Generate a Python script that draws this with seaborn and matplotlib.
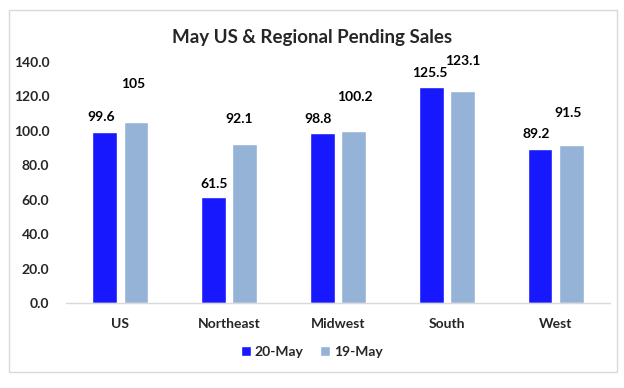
import matplotlib
matplotlib.use("Agg")
import matplotlib.pyplot as plt
import seaborn as sns
import pandas as pd
from matplotlib.patches import Rectangle

categories = ["US", "Northeast", "Midwest", "South", "West"]
series_names = ["20-May", "19-May"]
may20 = [99.6, 61.5, 98.8, 125.5, 89.2]
may19 = [105.0, 92.1, 100.2, 123.1, 91.5]
label_text_20 = ["99.6", "61.5", "98.8", "125.5", "89.2"]
label_text_19 = ["105", "92.1", "100.2", "123.1", "91.5"]
yticks = [0, 20, 40, 60, 80, 100, 120, 140]

# label offsets in points (dx, dy) relative to bar top centre
off20 = [(-3, 6), (0, 5), (-3, 6), (-1, 6), (-3, 7)]
off19 = [(-2, 23), (-4, 14), (1, 20), (0, 17), (-2, 19)]

df = pd.DataFrame({
    "Region": categories * 2,
    "Series": [series_names[0]] * 5 + [series_names[1]] * 5,
    "Value": may20 + may19,
})

sns.set_theme(style="white")
plt.rcParams["font.family"] = ["Lato", "DejaVu Sans"]

fig = plt.figure(figsize=(6.24, 3.88), dpi=100)
ax = fig.add_axes([66/624, 1-303/388, (610-66)/624, (303-62)/388])

palette = {"20-May": "#1818FF", "19-May": "#95B3D7"}
sns.barplot(data=df, x="Region", y="Value", hue="Series", order=categories,
            hue_order=series_names, palette=palette, width=0.57, gap=0.2,
            saturation=1, ax=ax, legend=True)

ax.set_ylim(0, 140)
ax.set_xlim(-0.5, 4.5)
ax.set_yticks(yticks)
ax.set_yticklabels([f"{v:.1f}" for v in yticks], fontsize=10, fontweight="bold")
ax.tick_params(axis="y", length=0, pad=12)
ax.tick_params(axis="x", length=0, pad=11)
for lab in ax.get_xticklabels():
    lab.set_fontsize(10)
    lab.set_fontweight("bold")
ax.set_xlabel("")
ax.set_ylabel("")
for s in ["top", "right", "left"]:
    ax.spines[s].set_visible(False)
ax.spines["bottom"].set_color("#d9d9d9")
ax.spines["bottom"].set_linewidth(1.0)

# data labels
containers = ax.containers
for cont, texts, offs in [(containers[0], label_text_20, off20), (containers[1], label_text_19, off19)]:
    for bar, t, (dx, dy) in zip(cont, texts, offs):
        x = bar.get_x() + bar.get_width() / 2
        y = bar.get_height()
        ax.annotate(t, (x, y), xytext=(dx, dy), textcoords="offset points",
                    ha="center", va="bottom", fontsize=10, fontweight="bold",
                    color="#000000", annotation_clip=False)

leg = ax.legend(loc="center", bbox_to_anchor=(0.5, 1-352/388), bbox_transform=fig.transFigure,
                ncol=2, frameon=False, fontsize=10, handlelength=0.7, handleheight=0.7,
                handletextpad=0.3, columnspacing=1.2)
for t in leg.get_texts():
    t.set_fontweight("bold")

fig.text(0.5, 1-38/388, "May US & Regional Pending Sales", ha="center", va="center",
         fontsize=13.5, fontweight="bold")

fig.patches.append(Rectangle((9/624, 1-372/388), (617-9)/624, (372-10)/388,
                             transform=fig.transFigure, fill=False,
                             edgecolor="#d9d9d9", linewidth=1.0))

fig.savefig("out.png", dpi=100)
